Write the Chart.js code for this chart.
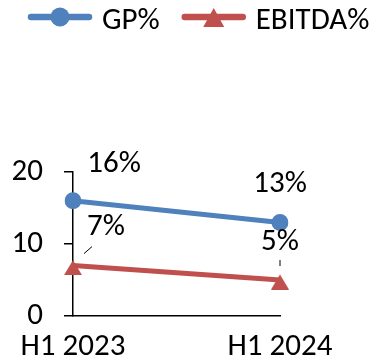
<!DOCTYPE html>
<html>
<head>
<meta charset="utf-8">
<script src="https://cdn.jsdelivr.net/npm/chart.js@4/dist/chart.umd.min.js"></script>
<style>
  html, body { margin: 0; padding: 0; background: #fff; }
  #wrap { width: 377px; height: 364px; }
</style>
</head>
<body>
<div id="wrap"><canvas id="c" width="377" height="364"></canvas></div>
<script>
// Margin series by half-year period
const periods = ['H1 2023', 'H1 2024'];
const gpPct = [16, 13];
const ebitdaPct = [7, 5];
const yTicks = [0, 10, 20];

const FONT = 'Carlito, "Liberation Sans", sans-serif';
const FONT_SIZE = 31;
const BLUE = '#4F81BD';
const RED = '#C0504D';

// Where each value label sits relative to its point, plus optional leader line
const labelPlacement = [
  [ { dx: 41, dy: -37 }, { dx: 0, dy: -38 } ],
  [ { dx: 33, dy: -38, leader: [11, -12, 19, -19] }, { dx: 0, dy: -38, leader: [0, -20, 0, -14] } ]
];

// Triangle marker sitting slightly below its anchor point
function triangleImage(w, up, down, color) {
  const size = Math.ceil(Math.max(up, down) * 2);
  const cv = document.createElement('canvas');
  cv.width = Math.ceil(w) + 2;
  cv.height = size;
  const c = cv.getContext('2d');
  const cx = cv.width / 2, cy = size / 2;
  c.fillStyle = color;
  c.beginPath();
  c.moveTo(cx, cy - up);
  c.lineTo(cx + w / 2, cy + down);
  c.lineTo(cx - w / 2, cy + down);
  c.closePath();
  c.fill();
  return cv;
}

function drawLegendMarker(ctx, shape, x, y, color) {
  ctx.fillStyle = color;
  ctx.beginPath();
  if (shape === 'triangle') {
    ctx.moveTo(x, y - 9);
    ctx.lineTo(x + 10.5, y + 10);
    ctx.lineTo(x - 10.5, y + 10);
    ctx.closePath();
  } else {
    ctx.arc(x, y, 9.5, 0, Math.PI * 2);
  }
  ctx.fill();
}

const legendShapes = ['circle', 'triangle'];

// Legend drawn as a line sample with its marker, followed by the series name
const lineLegend = {
  id: 'lineLegend',
  afterDraw(chart) {
    const ctx = chart.ctx;
    let x = 31;
    const yLine = 17, yText = 21, sample = 58, gap = 13, itemGap = 25;
    ctx.save();
    ctx.font = FONT_SIZE + 'px ' + FONT;
    ctx.textBaseline = 'middle';
    ctx.textAlign = 'left';
    chart.data.datasets.forEach((ds, di) => {
      ctx.strokeStyle = ds.borderColor;
      ctx.lineWidth = 6.5;
      ctx.lineCap = 'round';
      ctx.beginPath();
      ctx.moveTo(x, yLine);
      ctx.lineTo(x + sample, yLine);
      ctx.stroke();
      drawLegendMarker(ctx, legendShapes[di], x + sample / 2, yLine, ds.borderColor);
      ctx.fillStyle = '#000';
      ctx.fillText(ds.label, x + sample + gap, yText);
      x += sample + gap + ctx.measureText(ds.label).width + itemGap;
    });
    ctx.restore();
  }
};

// Percentage labels next to each point
const valueLabels = {
  id: 'valueLabels',
  afterDatasetsDraw(chart) {
    const ctx = chart.ctx;
    ctx.save();
    ctx.font = FONT_SIZE + 'px ' + FONT;
    ctx.textAlign = 'center';
    ctx.textBaseline = 'middle';
    chart.data.datasets.forEach((ds, di) => {
      const meta = chart.getDatasetMeta(di);
      meta.data.forEach((pt, i) => {
        const place = labelPlacement[di][i];
        ctx.fillStyle = '#000';
        ctx.fillText(ds.data[i] + '%', pt.x + place.dx, pt.y + place.dy);
        if (place.leader) {
          const [x1, y1, x2, y2] = place.leader;
          ctx.strokeStyle = '#000';
          ctx.lineWidth = 1;
          ctx.beginPath();
          ctx.moveTo(pt.x + x1, pt.y + y1);
          ctx.lineTo(pt.x + x2, pt.y + y2);
          ctx.stroke();
        }
      });
    });
    ctx.restore();
  }
};

new Chart(document.getElementById('c'), {
  type: 'line',
  data: {
    labels: periods,
    datasets: [
      {
        label: 'GP%',
        data: gpPct,
        borderColor: BLUE,
        backgroundColor: BLUE,
        borderWidth: 5,
        pointStyle: 'circle',
        pointRadius: 8.5,
        pointHoverRadius: 8.5,
        pointBorderWidth: 0,
        pointBackgroundColor: BLUE,
        tension: 0
      },
      {
        label: 'EBITDA%',
        data: ebitdaPct,
        borderColor: RED,
        backgroundColor: RED,
        borderWidth: 5,
        pointStyle: triangleImage(18, 5.5, 9.5, RED),
        pointRadius: 10,
        pointHoverRadius: 10,
        pointBorderWidth: 0,
        pointBackgroundColor: RED,
        tension: 0
      }
    ]
  },
  options: {
    responsive: false,
    animation: false,
    devicePixelRatio: 1,
    layout: { padding: { top: 172, left: 13, right: 97, bottom: 0 } },
    plugins: {
      legend: { display: false },
      tooltip: { enabled: false }
    },
    scales: {
      x: {
        offset: false,
        afterFit(scale) { scale.height = 48; },
        grid: { display: true, drawOnChartArea: false, color: 'rgba(0,0,0,0)', tickLength: 5 },
        border: { display: true, color: '#000', width: 1.5 },
        ticks: { color: '#000', font: { family: FONT, size: FONT_SIZE }, padding: 8, maxRotation: 0, autoSkip: false }
      },
      y: {
        min: 0,
        max: 20,
        afterFit(scale) { scale.width = 60; },
        afterBuildTicks(scale) { scale.ticks = yTicks.map(v => ({ value: v })); },
        grid: { display: true, drawOnChartArea: false, color: '#000', lineWidth: 1.5, tickLength: 9 },
        border: { display: true, color: '#000', width: 1.5 },
        ticks: { color: '#000', font: { family: FONT, size: FONT_SIZE }, padding: 21 }
      }
    }
  },
  plugins: [lineLegend, valueLabels]
});
</script>
</body>
</html>
